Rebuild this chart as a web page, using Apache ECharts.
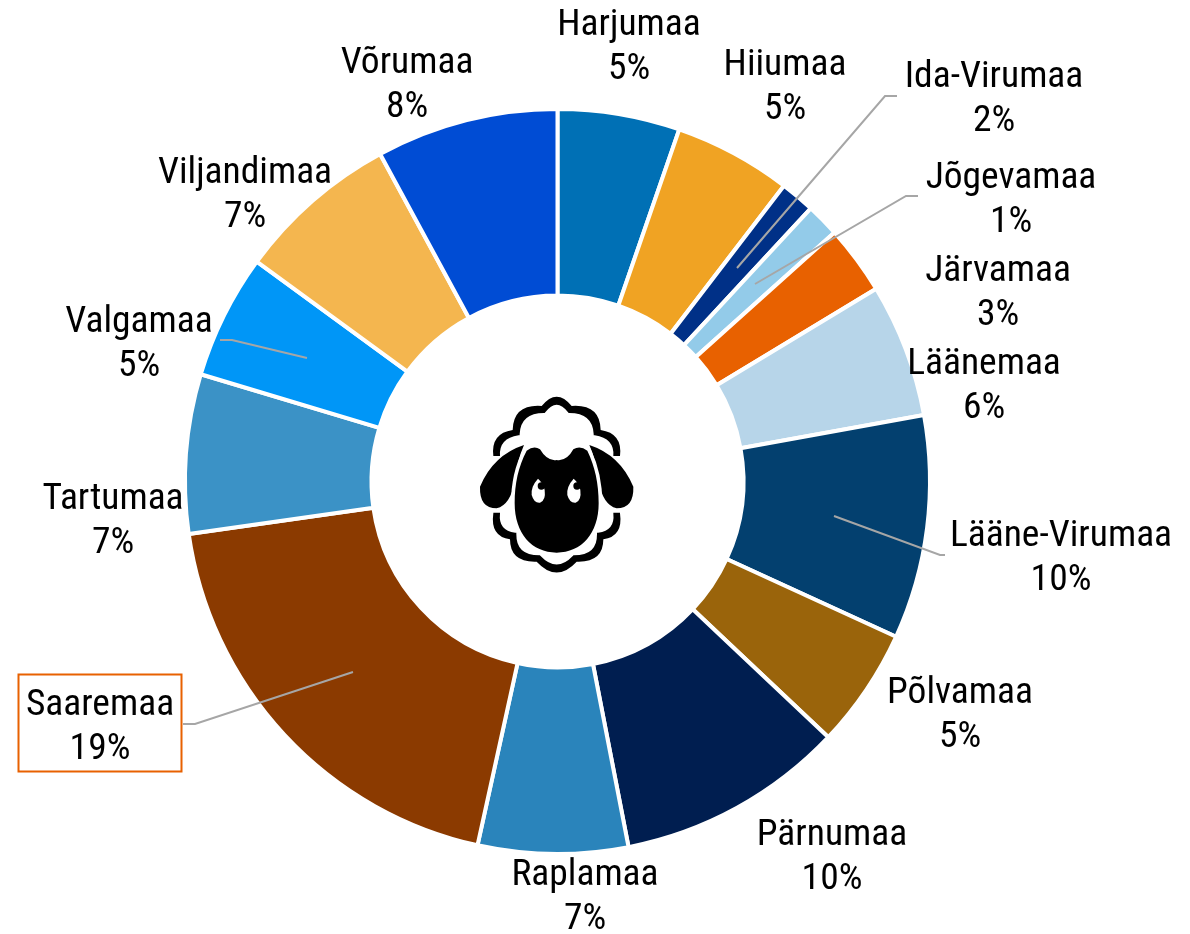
<!DOCTYPE html>
<html>
<head>
<meta charset="utf-8">
<title>Maakonnad</title>
<script src="https://cdn.jsdelivr.net/npm/echarts@6/dist/echarts.min.js"></script>
<style>
  html, body { margin: 0; padding: 0; background: #fff; }
  #chart { width: 1190px; height: 934px; }
</style>
</head>
<body>
<div id="chart"></div>
<script>
  // values (share of the ring, percent)
  const counties = ['Harjumaa', 'Hiiumaa', 'Ida-Virumaa', 'Jõgevamaa', 'Järvamaa', 'Läänemaa', 'Lääne-Virumaa', 'Põlvamaa', 'Pärnumaa', 'Raplamaa', 'Saaremaa', 'Tartumaa', 'Valgamaa', 'Viljandimaa', 'Võrumaa']
  const shares = [5.3, 5.1, 1.5, 1.44, 3.0, 5.8, 9.7, 5.2, 9.9, 6.5, 19.3, 6.9, 5.4, 7.05, 7.9]
  const colors = ['#0070b5', '#f0a323', '#003087', '#93cbe9', '#e86100', '#b7d5e9', '#03406f', '#9a640b', '#001e50', '#2a84bb', '#8b3a00', '#3b92c6', '#0096f7', '#f4b64f', '#004cd4']

  // label centres, the labels are placed by hand in the original
  const labelX = [629, 785, 994, 1011, 998, 984, 1061, 960, 832, 585, 100, 113, 139, 245, 407]
  const labelY = [48, 88, 100, 201, 294, 387, 559, 716, 858, 898, 728, 522, 345, 196, 86]

  // leader lines that start inside a slice
  const leaders = [
    [[737, 268], [885, 96], [897, 96]],
    [[755, 284], [906, 196], [918, 196]],
    [[834, 516], [940, 555], [945, 555]],
    [[353, 672], [195, 724], [183, 724]],
    [[307, 358], [232, 340], [220, 340]]
  ]

  const labelFont = '"Roboto Condensed", "Liberation Sans Narrow", Roboto, sans-serif'

  const seriesData = counties.map((name, i) => ({
    name: name,
    value: shares[i],
    itemStyle: { color: colors[i] }
  }))

  // the graphic component only knows registered shapes, so the icon parts go in here
  const iconPaths = {
    woolOuter: 'M100 228 Q92 160 158 150 Q160 72 245 78 Q290 22 335 78 Q420 72 422 150 Q488 160 480 228 L480 400 Q490 470 430 478 Q430 548 350 545 Q290 610 230 545 Q150 548 150 478 Q90 470 100 400 Z',
    woolInner: 'M116 228 Q112 172 175 162 Q178 95 252 95 Q290 45 328 95 Q402 95 405 162 Q468 172 464 228 L464 400 Q470 455 415 462 Q416 530 342 530 Q290 585 238 530 Q164 530 165 462 Q110 455 116 400 Z',
    earLeft: 'M192 195 Q100 225 60 320 Q58 385 110 385 Q152 375 165 300 Q172 240 192 195 Z',
    earRight: 'M388 195 Q480 225 520 320 Q522 385 470 385 Q428 375 415 300 Q408 240 388 195 Z',
    face: 'M200 212 Q222 195 240 208 Q262 245 290 240 Q320 245 340 208 Q360 195 382 212 C405 260 416 310 416 370 C416 460 365 518 290 518 C215 518 164 460 164 370 C164 310 175 260 200 212 Z',
    eyeLeft: 'M234 296 Q212 320 215 345 Q222 370 240 368 Q258 362 254 330 Q250 310 234 296 Z',
    eyeRight: 'M341 296 Q319 320 322 345 Q329 370 347 368 Q365 362 361 330 Q357 310 341 296 Z'
  }
  Object.keys(iconPaths).forEach((key) => {
    echarts.graphic.registerShape(key, echarts.graphic.extendPath(iconPaths[key], {}))
  })

  // sheep icon, drawn in 3x coordinates and scaled down
  const sheep = {
    type: 'group',
    x: 460,
    y: 380,
    scaleX: 1 / 3,
    scaleY: 1 / 3,
    z: 20,
    children: [
      { type: 'woolOuter', style: { fill: '#000' } },
      { type: 'woolInner', style: { fill: '#fff', stroke: '#000', lineWidth: 8 } },
      { type: 'rect', shape: { x: 90, y: 228, width: 400, height: 170 }, style: { fill: '#fff' } },
      { type: 'earLeft', style: { fill: '#000' } },
      { type: 'earRight', style: { fill: '#000' } },
      // white halo first, then the face on top of it
      { type: 'face', style: { fill: '#fff', stroke: '#fff', lineWidth: 22 } },
      { type: 'face', style: { fill: '#000' } },
      { type: 'eyeLeft', style: { fill: '#fff' } },
      { type: 'circle', shape: { cx: 244, cy: 318, r: 11 }, style: { fill: '#000' } },
      { type: 'eyeRight', style: { fill: '#fff' } },
      { type: 'circle', shape: { cx: 351, cy: 318, r: 11 }, style: { fill: '#000' } }
    ]
  }

  const leaderLines = leaders.map((points) => ({
    type: 'polyline',
    z: 10,
    shape: { points: points },
    style: { stroke: '#a6a6a6', lineWidth: 2, fill: 'none' }
  }))

  // orange box round the Saaremaa label
  const saaremaaBox = {
    type: 'rect',
    z: 10,
    shape: { x: 18.5, y: 674.5, width: 163, height: 97 },
    style: { fill: 'none', stroke: '#e86100', lineWidth: 2 }
  }

  const chart = echarts.init(document.getElementById('chart'))
  chart.setOption({
    animation: false,
    graphic: { elements: leaderLines.concat([saaremaaBox, sheep]) },
    series: [
      {
        type: 'pie',
        center: [557.5, 481.5],
        radius: [186, 372.5],
        startAngle: 90,
        avoidLabelOverlap: false,
        silent: true,
        data: seriesData,
        itemStyle: { borderColor: '#fff', borderWidth: 4 },
        label: {
          show: true,
          position: 'outside',
          color: '#000',
          fontFamily: labelFont,
          fontSize: 37.5,
          lineHeight: 44,
          align: 'center',
          formatter: (p) => `${p.name}\n${Math.round(p.value)}%`
        },
        labelLine: { show: false },
        labelLayout: (params) => ({
          x: labelX[params.dataIndex],
          y: labelY[params.dataIndex],
          align: 'center',
          verticalAlign: 'middle'
        })
      }
    ]
  })
</script>
</body>
</html>
